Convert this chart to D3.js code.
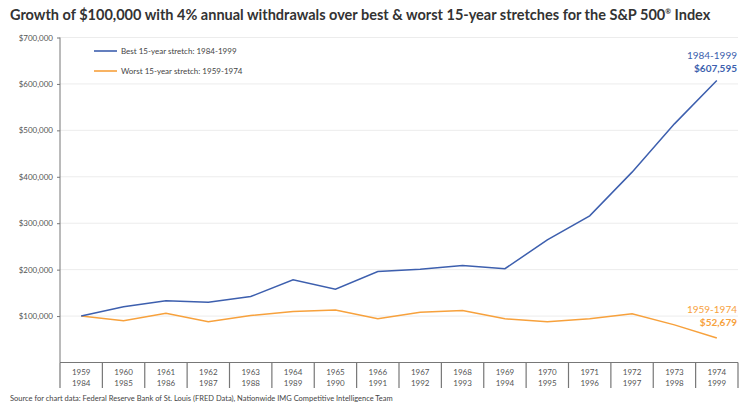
<!DOCTYPE html>
<html>
<head>
<meta charset="utf-8">
<script src="https://cdn.jsdelivr.net/npm/d3@7"></script>
<style>
  body { margin: 0; background: #fff; }
  text { font-family: Lato, "Open Sans", sans-serif; }
</style>
</head>
<body>
<svg id="chart" width="750" height="409"></svg>
<script>
// Years for each stretch (two rows of the table under the chart)
const worstYears = [1959, 1960, 1961, 1962, 1963, 1964, 1965, 1966, 1967, 1968, 1969, 1970, 1971, 1972, 1973, 1974];
const bestYears = [1984, 1985, 1986, 1987, 1988, 1989, 1990, 1991, 1992, 1993, 1994, 1995, 1996, 1997, 1998, 1999];

// Portfolio values
const bestValues = [100000, 120000, 133000, 130000, 142000, 178000, 158000, 196000, 201000, 209000, 202000, 264000, 316000, 410000, 514000, 607595];
const worstValues = [100000, 90000, 106000, 88000, 101000, 110000, 113000, 94000, 108000, 112000, 94000, 88000, 94000, 105000, 81000, 52679];

const yTicks = [100000, 200000, 300000, 400000, 500000, 600000, 700000];

const blue = '#3d5fae';
const orange = '#f7a13c';

let svg = d3.select('#chart');

/* Title */
let title = svg.append('text')
  .attr('x', 10).attr('y', 20)
  .attr('font-size', 14.5).attr('font-weight', 700)
  .attr('fill', '#333');
title.append('tspan')
  .text('Growth of $100,000 with 4% annual withdrawals over best & worst 15-year stretches for the S&P 500');
title.append('tspan').attr('font-size', 7).attr('dy', -6).text('®');
title.append('tspan').attr('dy', 6).text(' Index');

/* Scales */
let x = d3.scaleBand().domain(d3.range(worstYears.length)).range([60, 738]);
let y = d3.scaleLinear().domain([0, 700000]).range([362.5, 37.5]);
let cx = i => x(i) + x.bandwidth() / 2;

/* Gridlines */
svg.append('g').selectAll('line')
  .data(yTicks)
  .enter().append('line')
  .attr('x1', 60).attr('x2', 738)
  .attr('y1', d => y(d)).attr('y2', d => y(d))
  .attr('stroke', '#ececec').attr('stroke-width', 1);

/* Y axis */
let yAxis = svg.append('g')
  .attr('transform', 'translate(60,0)')
  .call(d3.axisLeft(y).tickValues(yTicks).tickSize(3).tickPadding(4)
    .tickFormat(d => '$' + d3.format(',')(d)));
yAxis.select('.domain').attr('stroke', '#777').attr('d', `M0,${y(700000)}V${y(0)}`);
yAxis.selectAll('.tick line').attr('stroke', '#777');
yAxis.selectAll('.tick text')
  .attr('font-family', 'Lato, sans-serif').attr('font-size', 8).attr('fill', '#555');

/* Year table under the chart */
let table = svg.append('g');
table.append('line')
  .attr('x1', 60).attr('x2', 738).attr('y1', 362.5).attr('y2', 362.5)
  .attr('stroke', '#777').attr('stroke-width', 1.2);
table.selectAll('line.col')
  .data(d3.range(worstYears.length + 1))
  .enter().append('line')
  .attr('class', 'col')
  .attr('x1', i => i < worstYears.length ? x(i) : x.range()[1])
  .attr('x2', i => i < worstYears.length ? x(i) : x.range()[1])
  .attr('y1', 362.5).attr('y2', 388)
  .attr('stroke', '#777').attr('stroke-width', 1.2);
table.selectAll('text.worst')
  .data(worstYears)
  .enter().append('text')
  .attr('x', (d, i) => cx(i)).attr('y', 375)
  .attr('text-anchor', 'middle').attr('font-size', 8).attr('fill', '#555')
  .text(d => d);
table.selectAll('text.best')
  .data(bestYears)
  .enter().append('text')
  .attr('x', (d, i) => cx(i)).attr('y', 386)
  .attr('text-anchor', 'middle').attr('font-size', 8).attr('fill', '#555')
  .text(d => d);

/* Lines */
let line = d3.line().x((d, i) => cx(i)).y(d => y(d));
svg.append('path').datum(worstValues)
  .attr('d', line).attr('fill', 'none')
  .attr('stroke', orange).attr('stroke-width', 1.5);
svg.append('path').datum(bestValues)
  .attr('d', line).attr('fill', 'none')
  .attr('stroke', blue).attr('stroke-width', 1.5);

/* Legend */
let legend = [
  {label: 'Best 15-year stretch: 1984-1999', color: blue},
  {label: 'Worst 15-year stretch: 1959-1974', color: orange}
];
let lg = svg.append('g').selectAll('g')
  .data(legend)
  .enter().append('g')
  .attr('transform', (d, i) => `translate(94,${51 + i * 20})`);
lg.append('line').attr('x1', 0).attr('x2', 23)
  .attr('stroke', d => d.color).attr('stroke-width', 1.6);
lg.append('text').attr('x', 27).attr('y', 3)
  .attr('font-size', 8).attr('fill', '#444')
  .text(d => d.label);

/* End labels */
let last = bestValues.length - 1;
svg.append('text')
  .attr('x', 737).attr('y', 59).attr('text-anchor', 'end')
  .attr('font-size', 10).attr('fill', blue)
  .text('1984-1999');
svg.append('text')
  .attr('x', 737).attr('y', 72).attr('text-anchor', 'end')
  .attr('font-size', 10).attr('font-weight', 700).attr('fill', blue)
  .text('$' + d3.format(',')(bestValues[last]));
svg.append('text')
  .attr('x', 737).attr('y', 313).attr('text-anchor', 'end')
  .attr('font-size', 10).attr('fill', orange)
  .text('1959-1974');
svg.append('text')
  .attr('x', 737).attr('y', 326).attr('text-anchor', 'end')
  .attr('font-size', 10).attr('font-weight', 700).attr('fill', orange)
  .text('$' + d3.format(',')(worstValues[last]));

/* Source */
svg.append('text')
  .attr('x', 10).attr('y', 401)
  .attr('font-size', 7.5).attr('fill', '#444')
  .text('Source for chart data: Federal Reserve Bank of St. Louis (FRED Data), Nationwide IMG Competitive Intelligence Team');
</script>
</body>
</html>
